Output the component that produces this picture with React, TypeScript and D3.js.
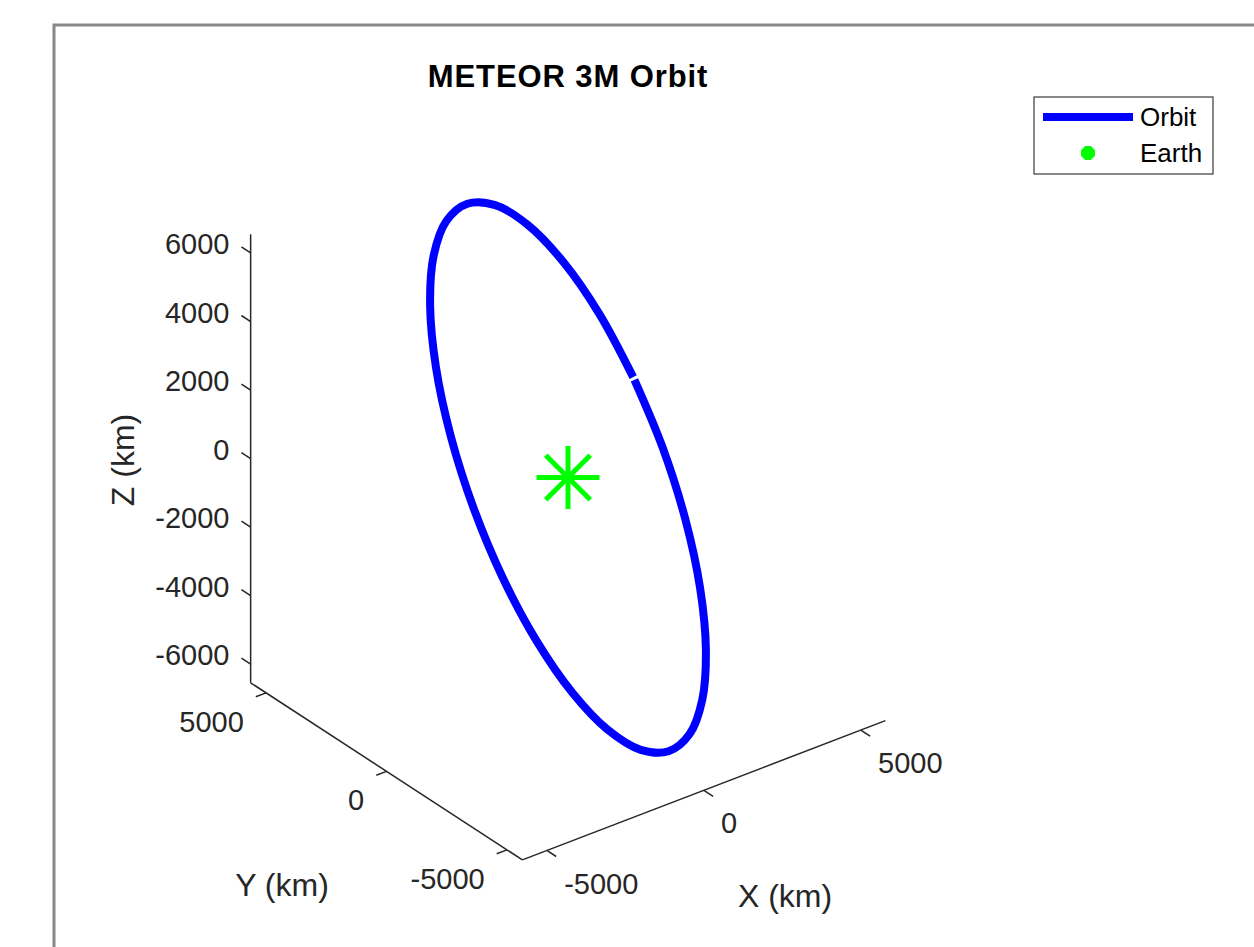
import React, { useEffect, useRef } from "react";
import * as d3 from "d3";

// orbit samples in km (every 15 deg around the orbit, gap left where the track starts/ends)
const orbitX = [5621, 5078, 4188, 3014, 1634, 142, -1359, -2768, -3987, -4936, -5547, -5781, -5621, -5078, -4188, -3014, -1634, -142, 1359, 2768, 3987, 4936, 5547, 5781, 5635];
const orbitY = [4621, 5312, 5641, 5585, 5149, 4362, 3278, 1970, 528, -950, -2363, -3615, -4621, -5312, -5641, -5585, -5149, -4362, -3278, -1970, -528, 950, 2363, 3615, 4586];
const orbitZ = [-1162, 550, 2225, 3748, 5015, 5941, 6462, 6543, 6177, 5391, 4237, 2795, 1162, -550, -2225, -3748, -5015, -5941, -6462, -6543, -6177, -5391, -4237, -2795, -1230];

const earthPos = [0, 0, 0];

const xTicks = [-5000, 0, 5000];
const yTicks = [-5000, 0, 5000];
const zTicks = [-6000, -4000, -2000, 0, 2000, 4000, 6000];

const legendLabels = ["Orbit", "Earth"];

const W = 1254;
const H = 947;
const FONT = "'Liberation Sans', Arial, Helvetica, sans-serif";
const AXIS = "#262626";

const App = () => {
  const svgRef = useRef(null);

  useEffect(() => {
    const svg = d3.select(svgRef.current);
    svg.selectAll("*").remove();

    // default matlab view
    const az = (-37.5 * Math.PI) / 180;
    const el = (30 * Math.PI) / 180;
    const px = d3.scaleLinear().domain([0, 1]).range([0, 0.03957]);
    const cx = 568;
    const cy = 477.5;

    const proj = (x, y, z) => {
      const h = Math.cos(az) * x + Math.sin(az) * y;
      const v = -Math.sin(el) * Math.sin(az) * x + Math.sin(el) * Math.cos(az) * y + Math.cos(el) * z;
      return [cx + px(h), cy - px(v)];
    };

    // axis tight
    const [xMin, xMax] = d3.extent(orbitX);
    const [yMin, yMax] = d3.extent(orbitY);
    const [zMin, zMax] = d3.extent(orbitZ);

    // frame
    svg.append("rect")
      .attr("x", 54).attr("y", 25)
      .attr("width", W).attr("height", H)
      .attr("fill", "white")
      .attr("stroke", "#888")
      .attr("stroke-width", 3);

    const line = d3.line().x(d => d[0]).y(d => d[1]);
    const axes = svg.append("g")
      .attr("stroke", AXIS)
      .attr("stroke-width", 1.5)
      .attr("fill", "none");

    axes.append("path").attr("d", line([proj(xMin, yMax, zMin), proj(xMin, yMax, zMax)]));
    axes.append("path").attr("d", line([proj(xMin, yMax, zMin), proj(xMin, yMin, zMin)]));
    axes.append("path").attr("d", line([proj(xMin, yMin, zMin), proj(xMax, yMin, zMin)]));

    const tickY = 383; // km, ~11px along y
    const tickX = 327; // km, ~11px along x

    const labels = svg.append("g")
      .attr("font-family", FONT)
      .attr("font-size", 29)
      .attr("fill", AXIS);

    zTicks.forEach(t => {
      const a = proj(xMin, yMax, t);
      const b = proj(xMin, yMax + tickY, t);
      axes.append("path").attr("d", line([a, b]));
      labels.append("text")
        .attr("x", b[0] - 12).attr("y", b[1] - 3)
        .attr("dy", "0.35em")
        .attr("text-anchor", "end")
        .text(t);
    });

    yTicks.forEach(t => {
      const a = proj(xMin, t, zMin);
      const b = proj(xMin - tickX, t, zMin);
      axes.append("path").attr("d", line([a, b]));
      labels.append("text")
        .attr("x", b[0] - 12).attr("y", b[1] + 25)
        .attr("dy", "0.35em")
        .attr("text-anchor", "end")
        .text(t);
    });

    xTicks.forEach(t => {
      const a = proj(t, yMin, zMin);
      const b = proj(t, yMin - tickY, zMin);
      axes.append("path").attr("d", line([a, b]));
      labels.append("text")
        .attr("x", b[0] + 8).attr("y", b[1] + 27)
        .attr("dy", "0.35em")
        .attr("text-anchor", "start")
        .text(t);
    });

    // axis titles
    const titles = svg.append("g")
      .attr("font-family", FONT)
      .attr("font-size", 32)
      .attr("fill", AXIS)
      .attr("text-anchor", "middle");
    titles.append("text").attr("x", 282).attr("y", 885).attr("dy", "0.35em").text("Y (km)");
    titles.append("text").attr("x", 785).attr("y", 896).attr("dy", "0.35em").text("X (km)");
    titles.append("text")
      .attr("transform", "translate(123,460) rotate(-90)")
      .attr("dy", "0.35em")
      .text("Z (km)");

    svg.append("text")
      .attr("x", 568).attr("y", 87)
      .attr("text-anchor", "middle")
      .attr("font-family", FONT)
      .attr("font-size", 31)
      .attr("font-weight", "bold")
      .attr("letter-spacing", 0.9)
      .attr("fill", "black")
      .text("METEOR 3M Orbit");

    // orbit
    const pts = orbitX.map((x, i) => proj(x, orbitY[i], orbitZ[i]));
    svg.append("path")
      .attr("d", d3.line().curve(d3.curveCatmullRom.alpha(0.5))(pts))
      .attr("fill", "none")
      .attr("stroke", "#0000ff")
      .attr("stroke-width", 8)
      .attr("stroke-linecap", "butt")
      .attr("stroke-linejoin", "round");

    // earth marker
    const star = (g, c, r, w) => {
      [0, 45, 90, 135].forEach(a => {
        const rad = (a * Math.PI) / 180;
        g.append("line")
          .attr("x1", c[0] - r * Math.cos(rad)).attr("y1", c[1] - r * Math.sin(rad))
          .attr("x2", c[0] + r * Math.cos(rad)).attr("y2", c[1] + r * Math.sin(rad))
          .attr("stroke", "#00ff00")
          .attr("stroke-width", w);
      });
    };
    star(svg.append("g"), proj(earthPos[0], earthPos[1], earthPos[2]), 31.5, 5);

    // legend
    const lg = svg.append("g").attr("transform", "translate(1034,97)");
    lg.append("rect")
      .attr("width", 179).attr("height", 77)
      .attr("fill", "white")
      .attr("stroke", "#3a3a3a")
      .attr("stroke-width", 1.2);
    lg.append("line")
      .attr("x1", 9).attr("x2", 99)
      .attr("y1", 20).attr("y2", 20)
      .attr("stroke", "#0000ff")
      .attr("stroke-width", 8);
    star(lg.append("g"), [54, 56], 7, 6);
    lg.selectAll("text.leg")
      .data(legendLabels)
      .enter()
      .append("text")
      .attr("class", "leg")
      .attr("x", 106)
      .attr("y", (d, i) => 20 + i * 36)
      .attr("dy", "0.35em")
      .attr("font-family", FONT)
      .attr("font-size", 26)
      .attr("fill", "black")
      .text(d => d);
  }, []);

  return (
    <svg
      ref={svgRef}
      width={W}
      height={H}
      style={{ position: "absolute", left: 0, top: 0, background: "white" }}
    />
  );
};

export default App;
